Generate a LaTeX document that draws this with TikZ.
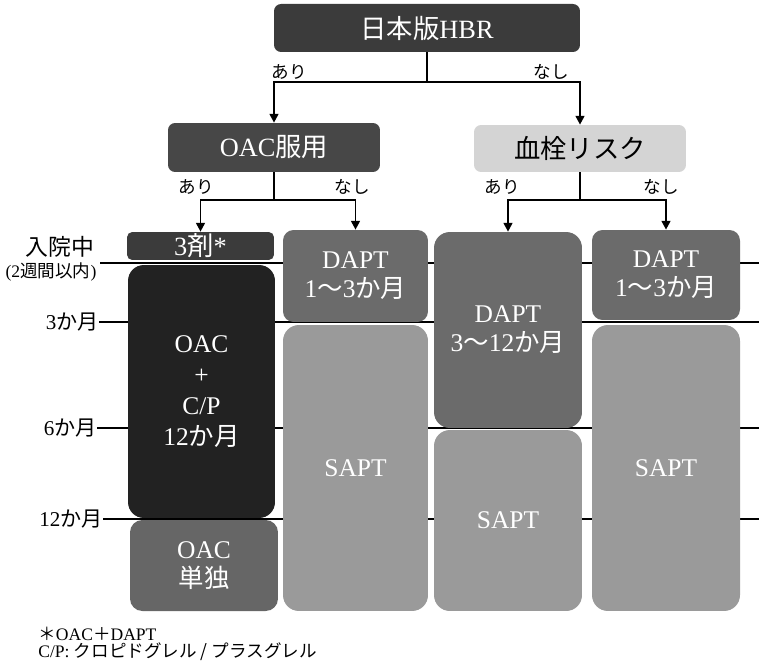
\documentclass[tikz,border=0pt]{standalone}
\usepackage{fontspec}
\setmainfont{Liberation Serif}
\newfontfamily\jp{Noto Sans CJK JP}
\newcommand{\ja}[1]{{\jp #1}}
\usepackage{tikz}
\usetikzlibrary{arrows.meta}
\definecolor{hdrdark}{HTML}{3B3B3B}
\definecolor{hdrmid}{HTML}{474747}
\definecolor{hdrlight}{HTML}{D4D4D4}
\definecolor{oaccol}{HTML}{222222}
\definecolor{solocol}{HTML}{666666}
\definecolor{daptcol}{HTML}{6B6B6B}
\definecolor{saptcol}{HTML}{9A9A9A}

\begin{document}
\begin{tikzpicture}[
  x=0.02cm,y=-0.02cm,
  hdr/.style={rounded corners=4pt,inner sep=0pt,text=white,font=\fontsize{15}{18}\selectfont},
  blk/.style={rounded corners=9pt,inner sep=0pt,align=center,text=white,font=\fontsize{14.5}{16.5}\selectfont},
  yn/.style={font=\fontsize{10}{12}\selectfont\jp},
  tick/.style={font=\fontsize{12}{14}\selectfont,inner sep=0pt},
  tl/.style={line width=1.1pt},
  ar/.style={-{Triangle[length=5pt,width=5pt]},line width=1.1pt}]
\useasboundingbox (0,0) rectangle (759,665);
\coordinate (s0) at (100,263);
\coordinate (e0) at (759,263);
\coordinate (e1) at (759,322);
\coordinate (e2) at (759,428);
\coordinate (e3) at (759,519);
\node[tick,font=\fontsize{13}{15}\selectfont] (adm) at (60,247) {\ja{入院中}};
\node[tick,font=\fontsize{10}{12}\selectfont] (admsub) at (51,272) {(2\ja{週間以内})};
\node[tick,anchor=east] (m3) at (99,322) {3\ja{か月}};
\node[tick,anchor=east] (m6) at (97,428) {6\ja{か月}};
\node[tick,anchor=east] (m12) at (103,519) {12\ja{か月}};
\draw[tl] (s0) -- (e0);
\draw[tl] (m3.east) -- (e1);
\draw[tl] (m6.east) -- (e2);
\draw[tl] (m12.east) -- (e3);
\node[hdr,fill=hdrdark,minimum width=6.12cm,minimum height=0.96cm] (hbr) at (427,28) {\ja{日本版}HBR};
\node[hdr,fill=hdrmid,minimum width=4.24cm,minimum height=0.98cm] (oac) at (274,147.5) {OAC\ja{服用}};
\node[hdr,fill=hdrlight,text=black,minimum width=4.24cm,minimum height=0.94cm] (risk) at (580,148.5) {\ja{血栓リスク}};
\node[hdr,fill=hdrdark,rounded corners=3pt,minimum width=2.94cm,minimum height=0.56cm] (triple) at (200.5,246) {3\ja{剤}*};
\node[blk,fill=oaccol,font=\fontsize{14.5}{17.5}\selectfont,minimum width=2.94cm,minimum height=5.06cm] (oaccp) at (201.5,391.5) {OAC\\+\\C/P\\12\ja{か月}};
\node[blk,fill=solocol,rounded corners=7pt,minimum width=2.96cm,minimum height=1.82cm] (oacsolo) at (204,565.5) {OAC\\\ja{単独}};
\node[blk,fill=daptcol,rounded corners=6pt,minimum width=2.9cm,minimum height=1.84cm] (daptA) at (355.5,276) {DAPT\\1\ja{～}3\ja{か月}};
\node[blk,fill=saptcol,minimum width=2.9cm,minimum height=5.72cm] (saptA) at (355.5,468) {SAPT};
\node[blk,fill=daptcol,minimum width=2.96cm,minimum height=3.92cm] (daptB) at (508,330) {DAPT\\3\ja{～}12\ja{か月}};
\node[blk,fill=saptcol,minimum width=2.96cm,minimum height=3.62cm] (saptB) at (508,520.5) {SAPT};
\node[blk,fill=daptcol,rounded corners=6pt,minimum width=2.96cm,minimum height=1.8cm] (daptC) at (666,275) {DAPT\\1\ja{～}3\ja{か月}};
\node[blk,fill=saptcol,minimum width=2.96cm,minimum height=5.72cm] (saptC) at (666,468) {SAPT};
\draw[ar] (hbr.south) -- ++(0,30) -| (oac.north);
\draw[ar] (hbr.south) -- ++(0,30) -| (risk.north);
\draw[ar] (oac.south) -- ++(0,28) -| (triple.north);
\draw[ar] (oac.south) -- ++(0,28) -| (daptA.north);
\draw[ar] (risk.south) -- ++(0,28) -| (daptB.north);
\draw[ar] (risk.south) -- ++(0,28) -| (daptC.north);
\node[yn] (yes1) at (289,72) {あり};
\node[yn] (no1) at (551,72) {なし};
\node[yn] (yes2) at (196,187) {あり};
\node[yn] (no2) at (352,187) {なし};
\node[yn] (yes3) at (502,187) {あり};
\node[yn] (no3) at (661,187) {なし};
\node[anchor=west,inner sep=0pt,font=\fontsize{10}{12}\selectfont] (note1) at (38,634) {\ja{＊}OAC\ja{＋}DAPT};
\node[anchor=west,inner sep=0pt,font=\fontsize{10}{12}\selectfont] (note2) at (38,652) {C/P: \ja{クロピドグレル / プラスグレル}};
\end{tikzpicture}
\end{document}
